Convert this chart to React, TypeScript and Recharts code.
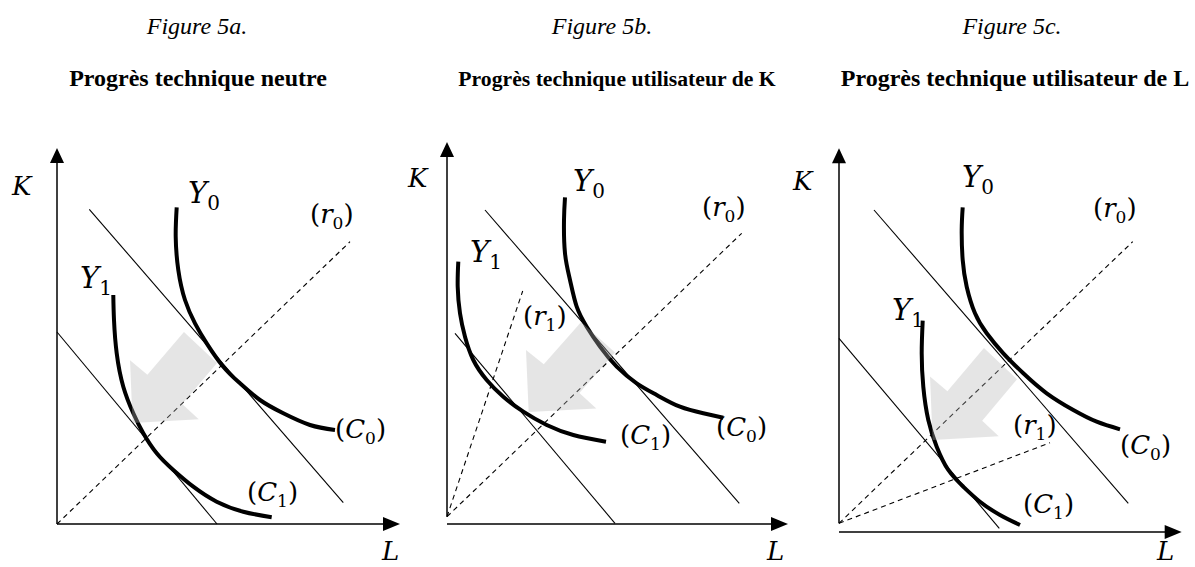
import React from 'react';
import { ComposedChart, Line, XAxis, YAxis, ReferenceLine, ReferenceDot, ReferenceArea } from 'recharts';

type Pt = { x: number; y: number };

// ---- Figure 5a : progrès neutre ----
const aY0: Pt[] = [
  { x: 11.97, y: 31.67 }, { x: 11.87, y: 28.73 }, { x: 12.13, y: 25.4 }, { x: 12.8, y: 22.4 },
  { x: 13.8, y: 20.07 }, { x: 14.97, y: 18.07 }, { x: 16.63, y: 15.73 }, { x: 18.3, y: 14.07 },
  { x: 20.3, y: 12.4 }, { x: 22.63, y: 11.07 }, { x: 25.3, y: 9.9 }, { x: 27.8, y: 9.4 },
];
const aY1: Pt[] = [
  { x: 5.63, y: 22.9 }, { x: 5.7, y: 20.4 }, { x: 5.97, y: 17.07 }, { x: 6.63, y: 13.73 },
  { x: 7.63, y: 11.07 }, { x: 8.63, y: 9.07 }, { x: 9.97, y: 7.07 }, { x: 11.63, y: 5.4 },
  { x: 13.63, y: 3.73 }, { x: 15.97, y: 2.23 }, { x: 18.63, y: 1.23 }, { x: 21.47, y: 0.67 },
];
const aC0: Pt[] = [{ x: 3.23, y: 31.47 }, { x: 28.63, y: 2.13 }];
const aC1: Pt[] = [{ x: 0, y: 19.2 }, { x: 16.0, y: 0 }];
const aR0: Pt[] = [{ x: 0, y: 0 }, { x: 29.3, y: 28.23 }];

// ---- Figure 5b : utilisateur de K ----
const bY0: Pt[] = [
  { x: 11.8, y: 32.67 }, { x: 11.7, y: 30.4 }, { x: 11.8, y: 27.07 }, { x: 12.3, y: 24.4 },
  { x: 12.97, y: 21.73 }, { x: 13.97, y: 19.73 }, { x: 15.3, y: 17.73 }, { x: 16.97, y: 15.73 },
  { x: 18.97, y: 14.07 }, { x: 20.97, y: 12.9 }, { x: 23.3, y: 11.73 }, { x: 25.63, y: 11.07 },
  { x: 27.63, y: 10.63 },
];
const bY1: Pt[] = [
  { x: 1.13, y: 26.23 }, { x: 1.07, y: 23.73 }, { x: 1.3, y: 21.07 }, { x: 1.8, y: 18.73 },
  { x: 2.63, y: 16.4 }, { x: 3.97, y: 14.4 }, { x: 5.63, y: 12.73 }, { x: 7.63, y: 11.23 },
  { x: 9.97, y: 9.9 }, { x: 12.63, y: 8.9 }, { x: 15.9, y: 8.23 },
];
const bC0: Pt[] = [{ x: 3.8, y: 31.4 }, { x: 29.23, y: 2.07 }];
const bC1: Pt[] = [{ x: 0.8, y: 19.07 }, { x: 16.8, y: 0.07 }];
const bR0: Pt[] = [{ x: 0, y: 0.73 }, { x: 29.47, y: 29.07 }];
const bR1: Pt[] = [{ x: 0, y: 0.73 }, { x: 7.57, y: 23.3 }];

// ---- Figure 5c : utilisateur de L ----
const cY0: Pt[] = [
  { x: 12.37, y: 32.47 }, { x: 12.27, y: 30.2 }, { x: 12.37, y: 27.2 }, { x: 12.77, y: 24.53 },
  { x: 13.6, y: 21.87 }, { x: 14.77, y: 19.87 }, { x: 16.43, y: 17.87 }, { x: 18.43, y: 15.87 },
  { x: 20.77, y: 13.87 }, { x: 23.43, y: 12.2 }, { x: 25.77, y: 11.03 }, { x: 28.1, y: 10.27 },
];
const cY1: Pt[] = [
  { x: 8.37, y: 21.13 }, { x: 8.27, y: 17.87 }, { x: 8.43, y: 14.53 }, { x: 8.93, y: 11.2 },
  { x: 9.77, y: 8.53 }, { x: 10.93, y: 6.2 }, { x: 12.43, y: 4.53 }, { x: 14.1, y: 3.03 },
  { x: 16.1, y: 1.7 }, { x: 18.1, y: 0.7 },
];
const cC0: Pt[] = [{ x: 3.5, y: 32.2 }, { x: 28.93, y: 2.87 }];
const cC1: Pt[] = [{ x: 0, y: 19.37 }, { x: 16.03, y: 0.37 }];
const cR0: Pt[] = [{ x: 0, y: 0.87 }, { x: 29.37, y: 29.03 }];
const cR1: Pt[] = [{ x: 0, y: 0.87 }, { x: 21.1, y: 8.93 }];

const titles = ['Progrès technique neutre', 'Progrès technique utilisateur de K', 'Progrès technique utilisateur de L'];
const figNames = ['Figure 5a.', 'Figure 5b.', 'Figure 5c.'];

const MATH = '"DejaVu Serif", serif';
const SERIF = '"Liberation Serif", "Times New Roman", serif';

// arrow outline, as fractions of its box
const ARROW = [[0.62, 0], [1, 0.34], [0.6, 0.79], [0.79, 0.96], [0.03, 1], [0, 0.31], [0.2, 0.47]];

type Lab = { x: number; y: number; main: string; sub?: string; paren?: boolean };

const panels = [
  {
    left: 0, width: 420, margin: { top: 134, right: 13, bottom: 43, left: 57 },
    y0: aY0, y1: aY1, c0: aC0, c1: aC1, rays: [aR0],
    yStart: 0, yTip: 37.6, xTip: 34.3,
    box: { x1: 7.3, x2: 16.0, y1: 10.1, y2: 19.2 },
    labels: [
      { x: -4.5, y: 32.9, main: 'K' }, { x: 32.5, y: -3.6, main: 'L' },
      { x: 13.1, y: 32.1, main: 'Y', sub: '0' }, { x: 2.3, y: 23.6, main: 'Y', sub: '1' },
      { x: 25.3, y: 30.1, main: 'r', sub: '0', paren: true },
      { x: 27.8, y: 8.6, main: 'C', sub: '0', paren: true },
      { x: 19.0, y: 2.3, main: 'C', sub: '1', paren: true },
    ] as Lab[],
  },
  {
    left: 400, width: 420, margin: { top: 134, right: 23, bottom: 43, left: 47 },
    y0: bY0, y1: bY1, c0: bC0, c1: bC1, rays: [bR0, bR1],
    yStart: 0.73, yTip: 38.2, xTip: 34.1,
    box: { x1: 7.9, x2: 16.8, y1: 11.2, y2: 20.2 },
    labels: [
      { x: -3.9, y: 33.7, main: 'K' }, { x: 32.0, y: -3.6, main: 'L' },
      { x: 12.6, y: 33.3, main: 'Y', sub: '0' }, { x: 2.3, y: 26.2, main: 'Y', sub: '1' },
      { x: 25.5, y: 30.8, main: 'r', sub: '0', paren: true },
      { x: 7.6, y: 19.9, main: 'r', sub: '1', paren: true },
      { x: 17.3, y: 8.0, main: 'C', sub: '1', paren: true },
      { x: 26.9, y: 8.8, main: 'C', sub: '0', paren: true },
    ] as Lab[],
  },
  {
    left: 790, width: 405, margin: { top: 142, right: 6, bottom: 35, left: 49 },
    y0: cY0, y1: cY1, c0: cC0, c1: cC1, rays: [cR0, cR1],
    yStart: 0.87, yTip: 38.37, xTip: 34.27,
    box: { x1: 9.1, x2: 17.8, y1: 9.2, y2: 18.4 },
    labels: [
      { x: -4.6, y: 34.2, main: 'K' }, { x: 31.8, y: -2.8, main: 'L' },
      { x: 12.3, y: 34.5, main: 'Y', sub: '0' }, { x: 5.3, y: 21.2, main: 'Y', sub: '1' },
      { x: 25.4, y: 31.5, main: 'r', sub: '0', paren: true },
      { x: 17.4, y: 9.8, main: 'r', sub: '1', paren: true },
      { x: 28.1, y: 7.8, main: 'C', sub: '0', paren: true },
      { x: 18.4, y: 1.9, main: 'C', sub: '1', paren: true },
    ] as Lab[],
  },
];

const MathText = ({ cx, cy, lab }: { cx: number; cy: number; lab: Lab }) => {
  const big = lab.main === 'Y' ? 29 : 26;
  const small = lab.main === 'Y' ? 20 : 17;
  const shift = lab.main === 'Y' ? 7 : 6;
  return (
    <text x={cx} y={cy} fontFamily={MATH} fontSize={big} fill="#000">
      {lab.paren && <tspan>(</tspan>}
      <tspan fontStyle="italic">{lab.main}</tspan>
      {lab.sub && <tspan fontSize={small} dy={shift}>{lab.sub}</tspan>}
      {lab.paren && <tspan dy={lab.sub ? -shift : 0}>)</tspan>}
    </text>
  );
};

const ArrowShape = (p: any) => {
  const { x, y, width, height } = p;
  const pts = ARROW.map(([u, v]) => `${x + u * width},${y + v * height}`).join(' ');
  return <polygon points={pts} fill="#b4b4b4" fillOpacity={0.35} stroke="none" />;
};

const Panel = ({ cfg }: { cfg: typeof panels[number] }) => (
  <div style={{ position: 'absolute', left: cfg.left, top: 0 }}>
    <ComposedChart width={cfg.width} height={567} margin={cfg.margin}>
      <XAxis type="number" dataKey="x" domain={[0, 35]} hide />
      <YAxis type="number" domain={[0, 39]} hide />
      {/* axes */}
      <ReferenceLine segment={[{ x: 0, y: cfg.yStart }, { x: 0, y: cfg.yTip - 1 }]} stroke="#000" strokeWidth={1.5} ifOverflow="visible" />
      <ReferenceLine segment={[{ x: 0, y: 0 }, { x: cfg.xTip - 1, y: 0 }]} stroke="#000" strokeWidth={1.5} ifOverflow="visible" />
      <ReferenceDot x={0} y={cfg.yTip} ifOverflow="visible"
        shape={(p: any) => <polygon points={`${p.cx},${p.cy} ${p.cx - 7},${p.cy + 15} ${p.cx + 7},${p.cy + 15}`} fill="#000" />} />
      <ReferenceDot x={cfg.xTip} y={0} ifOverflow="visible"
        shape={(p: any) => <polygon points={`${p.cx},${p.cy} ${p.cx - 17},${p.cy - 7} ${p.cx - 17},${p.cy + 7}`} fill="#000" />} />

      {cfg.rays.map((r, i) => (
        <Line key={'r' + i} data={r} dataKey="y" type="linear" stroke="#000" strokeWidth={1.1}
          strokeDasharray="5 4" dot={false} isAnimationActive={false} />
      ))}
      <Line data={cfg.c0} dataKey="y" type="linear" stroke="#000" strokeWidth={1.1} dot={false} isAnimationActive={false} />
      <Line data={cfg.c1} dataKey="y" type="linear" stroke="#000" strokeWidth={1.1} dot={false} isAnimationActive={false} />
      <Line data={cfg.y0} dataKey="y" type="natural" stroke="#000" strokeWidth={4} dot={false} isAnimationActive={false} />
      <Line data={cfg.y1} dataKey="y" type="natural" stroke="#000" strokeWidth={4} dot={false} isAnimationActive={false} />

      <ReferenceArea x1={cfg.box.x1} x2={cfg.box.x2} y1={cfg.box.y1} y2={cfg.box.y2}
        ifOverflow="visible" shape={ArrowShape} zIndex={1500} />

      {cfg.labels.map((lab, i) => (
        <ReferenceDot key={'l' + i} x={lab.x} y={lab.y} ifOverflow="visible"
          shape={(p: any) => <MathText cx={p.cx} cy={p.cy} lab={lab} />} />
      ))}
    </ComposedChart>
  </div>
);

export default function App() {
  const figX = [197, 602, 1012];
  const titleX = [198, 617, 1015];
  const titleSize = [24, 21.7, 24];
  return (
    <div style={{ position: 'absolute', left: 0, top: 0, width: 1195, height: 567, background: '#fff', overflow: 'hidden' }}>
      <svg width={1195} height={567} style={{ position: 'absolute', left: 0, top: 0 }}>
        {figNames.map((f, i) => (
          <text key={f} x={figX[i]} y={34} textAnchor="middle" fontFamily={SERIF} fontStyle="italic" fontSize={24}>{f}</text>
        ))}
        {titles.map((t, i) => (
          <text key={t} x={titleX[i]} y={86} textAnchor="middle" fontFamily={SERIF} fontWeight="bold" fontSize={titleSize[i]}>{t}</text>
        ))}
      </svg>
      {panels.map((p, i) => <Panel key={i} cfg={p} />)}
    </div>
  );
}
